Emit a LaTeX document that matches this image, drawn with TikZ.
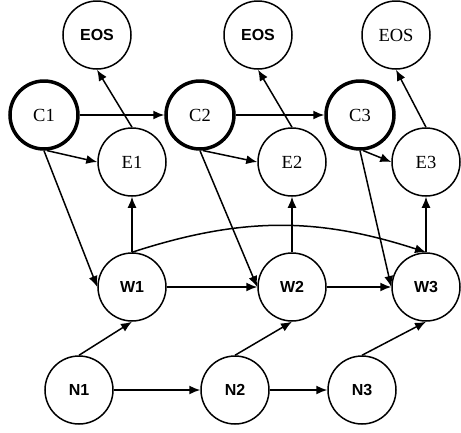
\documentclass[tikz,border=0pt]{standalone}
\usepackage{fontspec}
\setmainfont{Liberation Serif}
\setsansfont{Liberation Sans}
\usetikzlibrary{arrows.meta}
\tikzset{
  var/.style={circle, draw, line width=1.5pt, minimum size=68pt, inner sep=0pt,
    font=\fontsize{18.5}{18.5}\selectfont},
  hid/.style={var, font=\sffamily\bfseries\fontsize{16}{16}\selectfont},
  ctx/.style={var, line width=3.5pt},
  arr/.style={-{Latex[length=11pt,width=9pt]}, line width=1.5pt},
}
\begin{document}
\begin{tikzpicture}[x=1pt, y=-1pt]
  \useasboundingbox (0,0) rectangle (461,432);
  % top row
  \node[hid] (eos1) at (97,35) {EOS};
  \node[hid] (eos2) at (258,35) {EOS};
  \node[var] (eos3) at (396,35) {EOS};
  % context and emission
  \node[ctx] (c1) at (44,115) {C1};
  \node[ctx] (c2) at (200,115) {C2};
  \node[ctx] (c3) at (360,115) {C3};
  \node[var] (e1) at (132,162) {E1};
  \node[var] (e2) at (292,162) {E2};
  \node[var] (e3) at (426,162) {E3};
  % words and noise
  \node[hid] (w1) at (132,287) {W1};
  \node[hid] (w2) at (292,287) {W2};
  \node[hid] (w3) at (426,287) {W3};
  \node[hid] (n1) at (79,390) {N1};
  \node[hid] (n2) at (235,390) {N2};
  \node[hid] (n3) at (362,390) {N3};

  \draw[arr] (c1) -- (c2);
  \draw[arr] (c2) -- (c3);
  \draw[arr] (c1.-85) -- (e1.west);
  \draw[arr] (c2.-85) -- (e2.west);
  \draw[arr] (c3.-85) -- (e3.west);
  \draw[arr] (c1.south) -- (w1.west);
  \draw[arr] (c2.south) -- (w2.west);
  \draw[arr] (c3.south) -- (w3.west);
  \draw[arr] (e1.north) -- (eos1.south);
  \draw[arr] (e2.north) -- (eos2.south);
  \draw[arr] (e3.north) -- (eos3.south);
  \draw[arr] (w1.north) -- (e1.south);
  \draw[arr] (w2.north) -- (e2.south);
  \draw[arr] (w3.north) -- (e3.south);
  \draw[arr] (w1) -- (w2);
  \draw[arr] (w2) -- (w3);
  \draw[arr] (w1.north) to[bend left=18] (w3.north);
  \draw[arr] (n1.north) -- (w1.south);
  \draw[arr] (n2.north) -- (w2.south);
  \draw[arr] (n3.north) -- (w3.south);
  \draw[arr] (n1) -- (n2);
  \draw[arr] (n2) -- (n3);
\end{tikzpicture}
\end{document}
